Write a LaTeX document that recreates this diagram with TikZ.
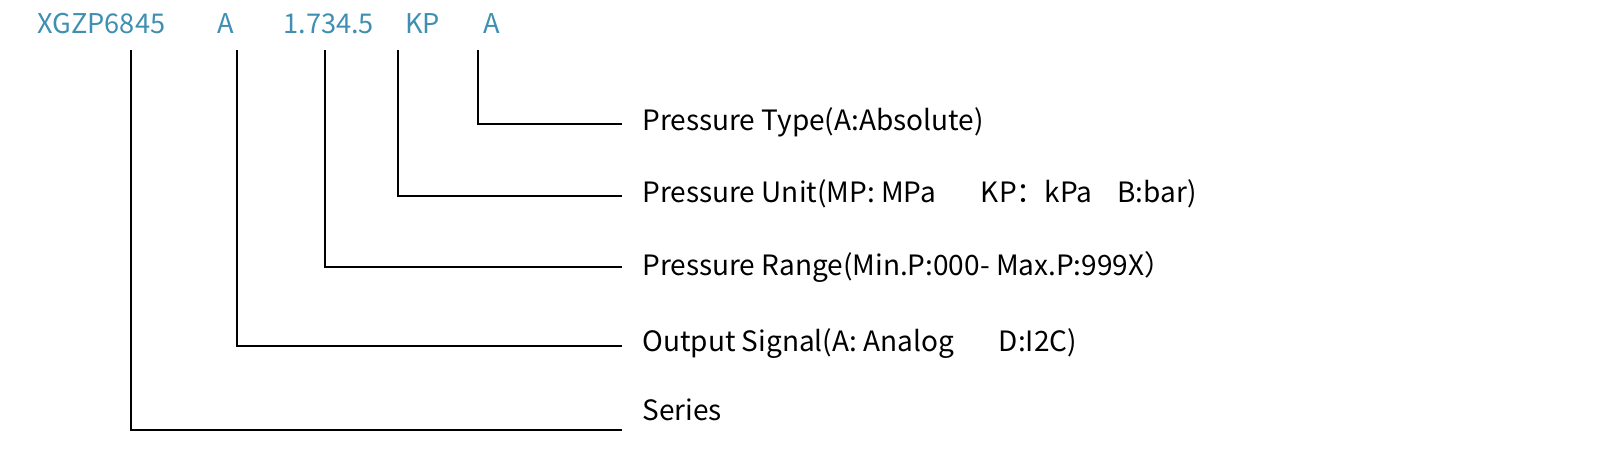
\documentclass[tikz,border=0pt]{standalone}
\usepackage{fontspec}
\setmainfont{Noto Sans CJK SC}
\definecolor{codeblue}{RGB}{62,143,178}
\begin{document}
\begin{tikzpicture}[x=0.5pt,y=-0.5pt,
  code/.style={anchor=west,inner sep=0pt,text=codeblue,font=\fontsize{13.6}{16}\selectfont},
  lbl/.style={anchor=west,inner sep=0pt,font=\fontsize{14}{16}\selectfont},
  conn/.style={line width=1pt}]
\useasboundingbox (0,0) rectangle (1598,464);
% top code
\node[code] (c1) at (37,24) {XGZP6845};
\node[code] (c2) at (217,24) {A};
\node[code] (c3) at (283,24) {1.734.5};
\node[code] (c4) at (405,24) {KP};
\node[code] (c5) at (483,24) {A};
% labels
\node[lbl] (l5) at (642,122) {Pressure Type(A:Absolute)};
\node[lbl] (l4) at (642,194) {Pressure Unit(MP: MPa\hspace{1.6em}KP：kPa\hspace{0.9em}B:bar)};
\node[lbl] (l3) at (642,267) {Pressure Range(Min.P:000- Max.P:999X）};
\node[lbl] (l2) at (642,344) {Output Signal(A: Analog\hspace{1.6em}D:I2C)};
\node[lbl] (l1) at (642,410) {Series};
% connector points
\coordinate (t1) at (131,50); \coordinate (e1) at (622,430);
\coordinate (t2) at (237,50); \coordinate (e2) at (622,346);
\coordinate (t3) at (325,50); \coordinate (e3) at (622,267);
\coordinate (t4) at (398,50); \coordinate (e4) at (622,196);
\coordinate (t5) at (478,50); \coordinate (e5) at (622,124);
\draw[conn] (t1) |- (e1);
\draw[conn] (t2) |- (e2);
\draw[conn] (t3) |- (e3);
\draw[conn] (t4) |- (e4);
\draw[conn] (t5) |- (e5);
\end{tikzpicture}
\end{document}
